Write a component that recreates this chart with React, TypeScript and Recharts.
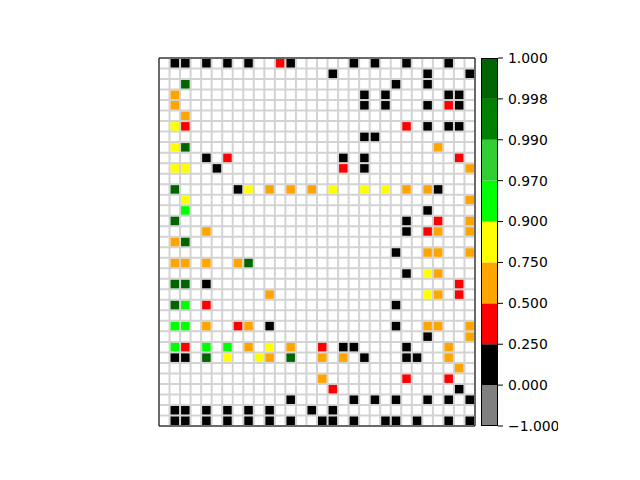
import { Bar, BarChart, CartesianGrid, ReferenceArea, Scatter, ScatterChart, XAxis, YAxis } from "recharts";

const COLS = 30;
const ROWS = 35;

// [row, col] of each coloured cell, row 0 at the top
const blackCells: [number, number][] = [
  [0, 1], [0, 2], [0, 4], [0, 6], [0, 8], [0, 12], [0, 18], [0, 20], [0, 23], [0, 27],
  [1, 16], [1, 25], [1, 29],
  [2, 22], [2, 25],
  [3, 19], [3, 21], [3, 27], [3, 28],
  [4, 19], [4, 21], [4, 25], [4, 28],
  [6, 25], [6, 27], [6, 28],
  [7, 19], [7, 20],
  [9, 4], [9, 17], [9, 19],
  [10, 5], [10, 19],
  [12, 7], [12, 26],
  [14, 25], [15, 23], [16, 23], [18, 22], [20, 23], [21, 4], [23, 22],
  [25, 10], [25, 22], [26, 25],
  [27, 17], [27, 18], [27, 23],
  [28, 1], [28, 2], [28, 19], [28, 23], [28, 24],
  [31, 28],
  [32, 12], [32, 18], [32, 20], [32, 22], [32, 25], [32, 27], [32, 29],
  [33, 1], [33, 2], [33, 4], [33, 6], [33, 8], [33, 10], [33, 14], [33, 16],
  [34, 1], [34, 2], [34, 4], [34, 6], [34, 8], [34, 10], [34, 12], [34, 15], [34, 16],
  [34, 18], [34, 21], [34, 22], [34, 24], [34, 27], [34, 29],
];

const redCells: [number, number][] = [
  [0, 11], [4, 27], [6, 2], [6, 23], [9, 6], [9, 28], [10, 17], [15, 26], [16, 25],
  [21, 28], [22, 28], [23, 4], [25, 7], [27, 2], [27, 15], [30, 23], [30, 27], [31, 16],
];

const orangeCells: [number, number][] = [
  [3, 1], [4, 1], [5, 2], [8, 26], [10, 29],
  [12, 10], [12, 12], [12, 14], [12, 23], [12, 25],
  [13, 29], [15, 29], [16, 4], [16, 26], [16, 29], [17, 1],
  [18, 25], [18, 26], [18, 29],
  [19, 1], [19, 2], [19, 4], [19, 7],
  [20, 26], [22, 10], [22, 26],
  [25, 4], [25, 8], [25, 25], [25, 26], [25, 29],
  [26, 29], [27, 8], [27, 12], [27, 27],
  [28, 10], [28, 15], [28, 17], [28, 27],
  [29, 28], [30, 15],
];

const yellowCells: [number, number][] = [
  [6, 1], [8, 1], [10, 1], [10, 2], [12, 8], [12, 16], [12, 19], [12, 21],
  [13, 2], [20, 25], [22, 25], [27, 10], [28, 6], [28, 9],
];

const limeCells: [number, number][] = [
  [14, 2], [23, 2], [25, 1], [25, 2], [27, 1], [27, 4], [27, 6],
];

const darkGreenCells: [number, number][] = [
  [2, 2], [8, 2], [12, 1], [15, 1], [17, 2], [19, 8], [21, 1], [21, 2], [23, 1], [28, 4], [28, 12],
];

const cbColors = ["#808080", "#000000", "#ff0000", "#ffa500", "#ffff00", "#00ff00", "#32cd32", "#008000", "#006400"];
const cbLabels = ["\u22121.000", "0.000", "0.250", "0.500", "0.750", "0.900", "0.970", "0.990", "0.998", "1.000"];

const PLOT_W = 316;
const PLOT_H = 368;
const CELL_W = PLOT_W / COLS - 2;
const CELL_H = PLOT_H / ROWS - 2;

const toPoints = (cells: [number, number][]) => cells.map(([r, c]) => ({ x: c + 0.5, y: r + 0.5 }));

const series = [
  { name: "black", cells: blackCells, color: "#000000" },
  { name: "red", cells: redCells, color: "#ff0000" },
  { name: "orange", cells: orangeCells, color: "#ffa500" },
  { name: "yellow", cells: yellowCells, color: "#ffff00" },
  { name: "lime", cells: limeCells, color: "#00ff00" },
  { name: "darkgreen", cells: darkGreenCells, color: "#006400" },
];

const Square = (p: any) => (
  <rect x={p.cx - CELL_W / 2} y={p.cy - CELL_H / 2} width={CELL_W} height={CELL_H} fill={p.fill} />
);

const xTicks = Array.from({ length: COLS + 1 }, (_, i) => i);
const yTicks = Array.from({ length: ROWS + 1 }, (_, i) => i);

const cbRow = [Object.fromEntries([["name", "cb"], ...cbColors.map((_, i) => [`s${i}`, 1])])];

export default function App() {
  return (
    <div style={{ position: "absolute", left: 0, top: 0, width: 640, height: 480, background: "#fff", fontFamily: "DejaVu Sans" }}>
      <div style={{ position: "absolute", left: 158, top: 57 }}>
        <ScatterChart width={PLOT_W + 2} height={PLOT_H + 2} margin={{ top: 1, right: 1, bottom: 1, left: 1 }}>
          <XAxis type="number" dataKey="x" domain={[0, COLS]} ticks={xTicks} interval={0} hide />
          <YAxis type="number" dataKey="y" domain={[0, ROWS]} ticks={yTicks} interval={0} reversed hide />
          <CartesianGrid stroke="#d3d3d3" strokeWidth={2} />
          {series.map((s) => (
            <Scatter
              key={s.name}
              data={toPoints(s.cells)}
              fill={s.color}
              shape={Square}
              isAnimationActive={false}
            />
          ))}
          <ReferenceArea x1={0} x2={COLS} y1={0} y2={ROWS} fill="none" stroke="#000" strokeWidth={1} />
        </ScatterChart>
      </div>
      <div style={{ position: "absolute", left: 481, top: 48 }}>
        <BarChart width={77} height={388} data={cbRow} margin={{ top: 10, right: 0, bottom: 10, left: 0 }} barCategoryGap={0} barGap={0}>
          <XAxis dataKey="name" hide />
          <YAxis
            orientation="right"
            type="number"
            domain={[0, 9]}
            ticks={[0, 1, 2, 3, 4, 5, 6, 7, 8, 9]}
            interval={0}
            tickFormatter={(v: number) => cbLabels[v]}
            axisLine={false}
            tickLine={{ stroke: "#000" }}
            tickSize={5}
            tickMargin={5}
            tick={{ fill: "#000", fontSize: 13.9, fontFamily: "DejaVu Sans" }}
            width={60}
          />
          {cbColors.map((c, i) => (
            <Bar key={i} dataKey={`s${i}`} stackId="cb" fill={c} isAnimationActive={false} />
          ))}
        </BarChart>
        <div style={{ position: "absolute", left: 0, top: 10, width: 17, height: 368, border: "1px solid #000", boxSizing: "border-box" }} />
      </div>
    </div>
  );
}
